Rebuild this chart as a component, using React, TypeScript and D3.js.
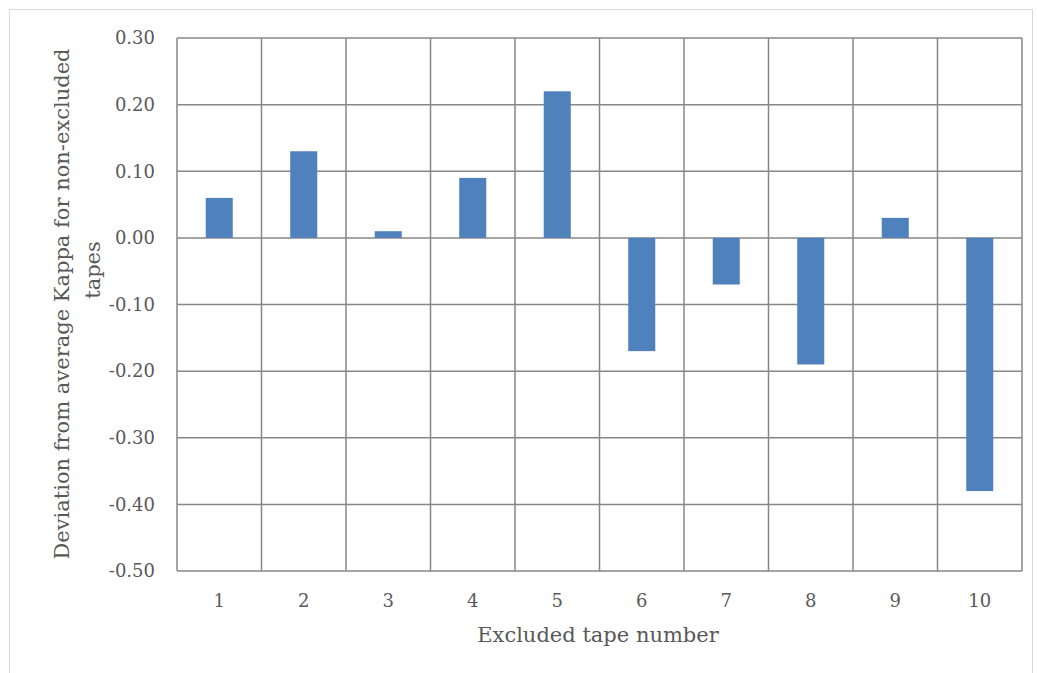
import React from "react";
import * as d3 from "d3";

const categories = ["1", "2", "3", "4", "5", "6", "7", "8", "9", "10"];
const values = [0.06, 0.13, 0.01, 0.09, 0.22, -0.17, -0.07, -0.19, 0.03, -0.38];
const yTicks = [0.3, 0.2, 0.1, 0, -0.1, -0.2, -0.3, -0.4, -0.5];

const W = 1037, H = 673;
const L = 177, R = 1022, T = 38, B = 571;
const FONT = "'DejaVu Serif', 'Liberation Serif', serif";
const GRID = "#878787";

export default function App() {
  const x = d3.scaleBand().domain(categories).range([L, R]).paddingInner(0).paddingOuter(0);
  const y = d3.scaleLinear().domain([-0.5, 0.3]).range([B, T]);
  const bw = x.bandwidth() * 0.32;
  const fmt = (t: number) => d3.format(".2f")(t).replace("\u2212", "-");
  return (
    <svg width={W} height={H} style={{ position: "absolute", left: 0, top: 0, background: "#fff" }}>
      <rect x={9.5} y={9.5} width={1023} height={680} fill="#fff" stroke="#d9d9d9" strokeWidth={1} />
      {yTicks.map((t) => (
        <line key={"h" + t} x1={L} x2={R} y1={y(t)} y2={y(t)} stroke={GRID} strokeWidth={1.5} />
      ))}
      {categories.map((c) => (
        <line key={"v" + c} x1={x(c)!} x2={x(c)!} y1={T} y2={B} stroke={GRID} strokeWidth={1.5} />
      ))}
      <line x1={R} x2={R} y1={T} y2={B} stroke={GRID} strokeWidth={1.5} />
      {values.map((v, i) => {
        const c = categories[i];
        const cx = x(c)! + x.bandwidth() / 2;
        return (
          <rect key={"b" + c} x={cx - bw / 2} width={bw} y={Math.min(y(v), y(0))} height={Math.abs(y(v) - y(0))} fill="#4f81bd" />
        );
      })}
      {yTicks.map((t) => (
        <text key={"yl" + t} x={155} y={y(t)} dy="0.35em" textAnchor="end" fontFamily={FONT} fontSize={18} fill="#595959">
          {fmt(t)}
        </text>
      ))}
      {categories.map((c) => (
        <text key={"xl" + c} x={x(c)! + x.bandwidth() / 2} y={601} dy="0.35em" textAnchor="middle" fontFamily={FONT} fontSize={18} fill="#595959">
          {c}
        </text>
      ))}
      <text x={598} y={635} dy="0.35em" textAnchor="middle" fontFamily={FONT} fontSize={21} fill="#595959">
        Excluded tape number
      </text>
      <text transform={`translate(62, 304) rotate(-90)`} x={0} y={0} dy="0.35em" textAnchor="middle" fontFamily={FONT} fontSize={21} fill="#595959">
        Deviation from average Kappa for non-excluded
      </text>
      <text transform={`translate(93, 270) rotate(-90)`} x={0} y={0} dy="0.35em" textAnchor="middle" fontFamily={FONT} fontSize={21} fill="#595959">
        tapes
      </text>
    </svg>
  );
}
